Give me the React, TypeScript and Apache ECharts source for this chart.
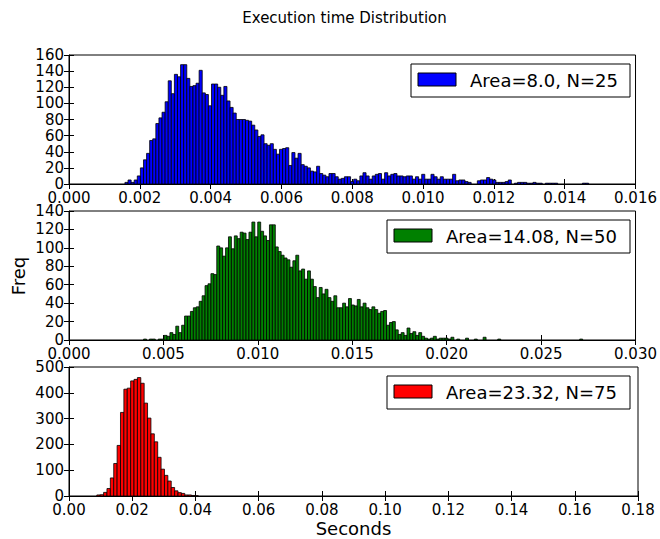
import React, { useEffect, useRef } from "react";
import * as echarts from "echarts";

const TITLE = "Execution time Distribution";
const X_NAME = "Seconds";
const Y_NAME = "Freq";

const topLegendText = "Area=8.0, N=25";
const midLegendText = "Area=14.08, N=50";
const botLegendText = "Area=23.32, N=75";

// top histogram (150 bins)
const topBinStart = 0.00158;
const topBinWidth = 0.0000873;
const topCounts = [
  2, 5, 2, 5, 10, 20, 30, 38, 54, 56,
  75, 82, 89, 102, 128, 112, 136, 133, 148, 148,
  131, 121, 122, 125, 141, 113, 111, 97, 124, 124,
  120, 110, 121, 103, 95, 88, 80, 80, 80, 79,
  78, 73, 67, 59, 61, 50, 48, 50, 43, 37,
  43, 44, 45, 23, 39, 32, 38, 24, 22, 20,
  16, 15, 22, 13, 11, 9, 13, 13, 9, 6,
  7, 9, 9, 3, 6, 4, 10, 14, 10, 6,
  10, 12, 13, 6, 14, 10, 12, 13, 10, 10,
  9, 10, 10, 6, 9, 6, 12, 6, 6, 12,
  9, 6, 9, 6, 6, 6, 12, 4, 5, 5,
  3, 2, 0, 0, 4, 5, 5, 8, 6, 5,
  2, 2, 2, 3, 5, 0, 1, 2, 2, 2,
  1, 1, 2, 1, 1, 0, 1, 1, 1, 1,
  0, 0, 0, 0, 0, 0, 0, 0, 1, 1,
];

// middle histogram (150 bins)
const midBinStart = 0.00395;
const midBinWidth = 0.000155;
const midCounts = [
  1, 0, 1, 1, 0, 1, 1, 5, 4, 8,
  6, 15, 8, 16, 26, 26, 31, 35, 36, 42,
  48, 59, 61, 72, 71, 102, 100, 91, 100, 112,
  99, 113, 110, 117, 116, 109, 117, 128, 112, 128,
  118, 113, 108, 125, 125, 101, 96, 92, 89, 87,
  79, 86, 92, 75, 77, 66, 75, 66, 58, 46,
  57, 50, 55, 46, 42, 48, 35, 35, 40, 36,
  45, 38, 37, 44, 36, 40, 35, 33, 36, 33,
  29, 31, 32, 16, 19, 20, 11, 6, 8, 5,
  13, 7, 9, 5, 8, 4, 2, 1, 2, 4,
  1, 2, 2, 2, 1, 3, 0, 1, 0, 0,
  2, 0, 0, 1, 0, 0, 3, 0, 0, 0,
  0, 1, 0, 0, 0, 0, 0, 0, 0, 0,
  0, 0, 0, 0, 0, 0, 0, 0, 0, 0,
  0, 0, 0, 0, 0, 0, 0, 0, 0, 1,
];

// bottom histogram (150 bins)
const botBinStart = 0.0088;
const botBinWidth = 0.00107;
const botCounts = [
  4, 5, 14, 29, 70, 126, 196, 324, 414, 418,
  446, 452, 459, 437, 360, 302, 241, 210, 150, 104,
  80, 58, 33, 20, 13, 10, 4, 4, 2, 1,
  0, 0, 0, 0, 0, 0, 0, 0, 0, 0,
  0, 0, 0, 0, 0, 0, 0, 0, 0, 0,
  0, 0, 0, 0, 0, 0, 0, 0, 0, 0,
  0, 0, 0, 0, 0, 0, 0, 0, 0, 0,
  0, 0, 0, 0, 0, 0, 0, 0, 0, 0,
  0, 0, 0, 0, 0, 0, 0, 0, 0, 0,
  0, 0, 0, 0, 0, 0, 0, 0, 0, 0,
  0, 0, 0, 0, 0, 0, 0, 0, 0, 0,
  0, 0, 0, 0, 0, 0, 0, 0, 0, 0,
  0, 0, 0, 0, 0, 0, 0, 0, 0, 0,
  0, 0, 0, 0, 0, 0, 0, 0, 0, 0,
  0, 0, 0, 0, 0, 0, 0, 0, 0, 0,
];

// axis ranges / ticks
const xMaxes = [0.016, 0.03, 0.18];
const xIntervals = [0.002, 0.005, 0.02];
const xDecimals = [3, 3, 2];
const yMaxes = [160, 140, 500];
const yIntervals = [20, 20, 100];

const FONT = "DejaVu Sans";

function binsToData(start: number, width: number, counts: number[]) {
  return counts.map((c, i) => [start + i * width, start + (i + 1) * width, c]);
}

export default function App() {
  const ref = useRef<HTMLDivElement>(null);
  useEffect(() => {
    document.body.style.margin = "0";
    const chart = echarts.init(ref.current!, undefined, { renderer: "svg" });
    const gridTops = [55, 211, 367];
    const grids = gridTops.map((t) => ({
      left: 69,
      top: t,
      width: 569,
      height: 129,
      show: true,
      borderColor: "#000",
      borderWidth: 1,
      backgroundColor: "#fff",
    }));
    const xAxes: any[] = [];
    const yAxes: any[] = [];
    for (let k = 0; k < 3; k++) {
      const dec = xDecimals[k];
      xAxes.push({
        type: "value",
        gridIndex: k,
        position: "bottom",
        min: 0,
        max: xMaxes[k],
        interval: xIntervals[k],
        axisLine: { show: true, lineStyle: { color: "#000", width: 1 } },
        axisTick: { show: true, inside: true, length: 5, lineStyle: { color: "#000" } },
        axisLabel: {
          show: true,
          margin: 6,
          color: "#000",
          fontSize: 15,
          fontFamily: FONT,
          formatter: (v: number) => v.toFixed(dec),
        },
        splitLine: { show: false },
      });
      xAxes.push({
        type: "value",
        gridIndex: k,
        position: "top",
        min: 0,
        max: xMaxes[k],
        interval: xIntervals[k],
        axisLine: { show: false },
        axisTick: { show: true, inside: true, length: 5, lineStyle: { color: "#000" } },
        axisLabel: { show: false },
        splitLine: { show: false },
      });
      yAxes.push({
        type: "value",
        gridIndex: k,
        position: "left",
        min: 0,
        max: yMaxes[k],
        interval: yIntervals[k],
        axisLine: { show: true, lineStyle: { color: "#000", width: 1 } },
        axisTick: { show: true, inside: true, length: 5, lineStyle: { color: "#000" } },
        axisLabel: {
          show: true,
          margin: 5,
          color: "#000",
          fontSize: 15,
          fontFamily: FONT,
        },
        splitLine: { show: false },
      });
      yAxes.push({
        type: "value",
        gridIndex: k,
        position: "right",
        min: 0,
        max: yMaxes[k],
        interval: yIntervals[k],
        axisLine: { show: false },
        axisTick: { show: true, inside: true, length: 5, lineStyle: { color: "#000" } },
        axisLabel: { show: false },
        splitLine: { show: false },
      });
    }

    const hist = [
      { name: topLegendText, color: "#0000ff", data: binsToData(topBinStart, topBinWidth, topCounts) },
      { name: midLegendText, color: "#008000", data: binsToData(midBinStart, midBinWidth, midCounts) },
      { name: botLegendText, color: "#ff0000", data: binsToData(botBinStart, botBinWidth, botCounts) },
    ];

    const series = hist.map((h, k) => ({
      type: "custom",
      name: h.name,
      xAxisIndex: 2 * k,
      yAxisIndex: 2 * k,
      data: h.data,
      encode: { x: [0, 1], y: 2 },
      renderItem: (_params: any, api: any) => {
        const x0 = api.value(0);
        const x1 = api.value(1);
        const c = api.value(2);
        if (!c) return null;
        const p0 = api.coord([x0, 0]);
        const p1 = api.coord([x1, c]);
        return {
          type: "rect",
          shape: { x: p0[0], y: p1[1], width: p1[0] - p0[0], height: p0[1] - p1[1] },
          style: { fill: h.color, stroke: "#000", lineWidth: 0.8 },
        };
      },
    }));

    const legendDefs = [
      { box: [411, 219], sw: 418, tx: 470 },
      { box: [387, 243], sw: 394, tx: 446 },
      { box: [387, 243], sw: 394, tx: 446 },
    ];
    const graphics: any[] = [];
    legendDefs.forEach((d, k) => {
      const t = gridTops[k];
      graphics.push({
        type: "rect",
        shape: { x: d.box[0], y: t + 9, width: d.box[1], height: 33 },
        style: { fill: "#fff", stroke: "#000", lineWidth: 1 },
        z: 100,
      });
      graphics.push({
        type: "rect",
        shape: { x: d.sw, y: t + 18, width: 38, height: 13 },
        style: { fill: hist[k].color, stroke: "#000", lineWidth: 1 },
        z: 101,
      });
      graphics.push({
        type: "text",
        x: d.tx,
        y: t + 25.5,
        style: {
          text: hist[k].name,
          fontSize: 18,
          fontFamily: FONT,
          fill: "#000",
          align: "left",
          verticalAlign: "middle",
        },
        z: 101,
      });
    });
    graphics.push({
      type: "text",
      x: 344.5,
      y: 18,
      style: { text: TITLE, fontSize: 15, fontFamily: FONT, fill: "#000", align: "center", verticalAlign: "middle" },
    });
    graphics.push({
      type: "text",
      x: 18,
      y: 276,
      rotation: Math.PI / 2,
      style: { text: Y_NAME, fontSize: 18, fontFamily: FONT, fill: "#000", align: "center", verticalAlign: "middle" },
    });
    graphics.push({
      type: "text",
      x: 353.5,
      y: 528,
      style: { text: X_NAME, fontSize: 18, fontFamily: FONT, fill: "#000", align: "center", verticalAlign: "middle" },
    });

    chart.setOption({
      animation: false,
      backgroundColor: "#fff",
      grid: grids,
      xAxis: xAxes,
      yAxis: yAxes,
      series,
      graphic: graphics,
    });
    return () => chart.dispose();
  }, []);
  return <div ref={ref} style={{ width: 660, height: 539 }} />;
}
